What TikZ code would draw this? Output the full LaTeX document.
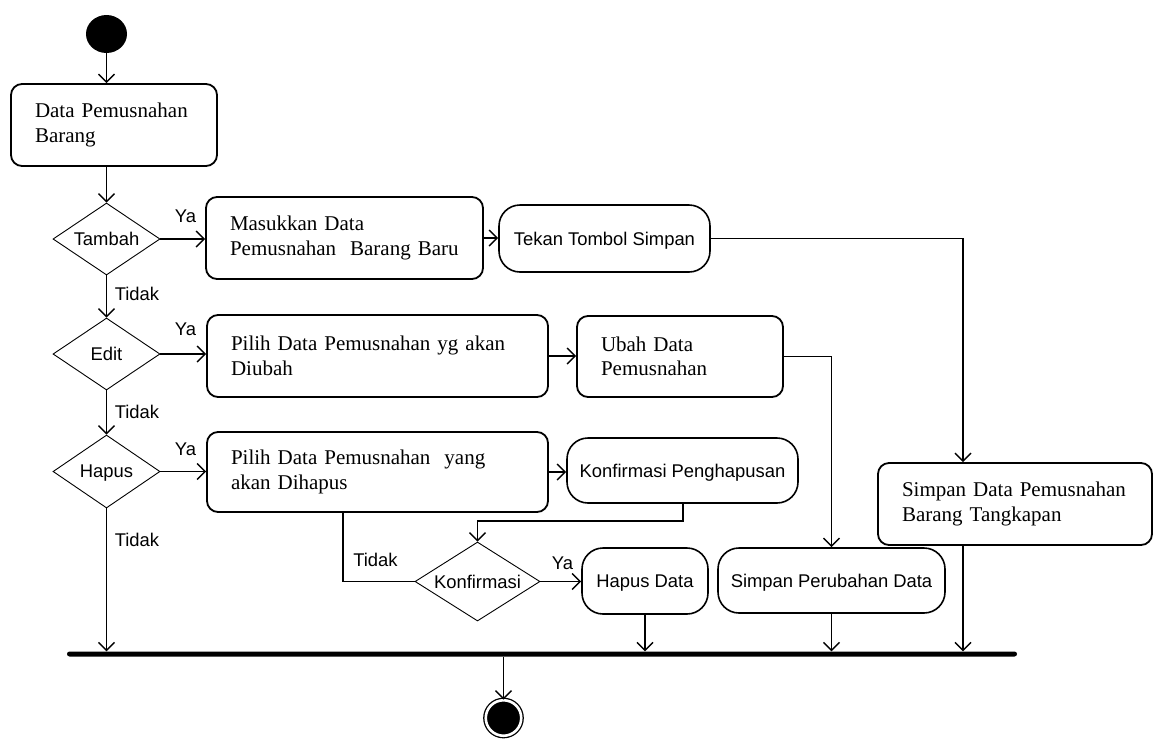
\documentclass[tikz,border=0pt]{standalone}
\usepackage{fontspec}
\setmainfont{Liberation Serif}
\setsansfont{Liberation Sans}
\usetikzlibrary{shapes.geometric,arrows.meta,calc}
\begin{document}
\begin{tikzpicture}[x=1pt,y=-1pt,
  serifbox/.style={draw, line width=1.8pt, rounded corners=11pt, rectangle, align=left, inner xsep=24pt, inner ysep=0pt, font=\fontsize{21}{24.5}\selectfont},
  sansbox/.style={draw, line width=1.6pt, rounded corners=21pt, rectangle, align=center, inner sep=0pt, text depth=0pt, font=\sffamily\fontsize{18.4}{22}\selectfont},
  dec/.style={draw, diamond, line width=0.9pt, inner sep=0pt, text depth=0pt, font=\sffamily\fontsize{18.4}{22}\selectfont},
  lbl/.style={font=\sffamily\fontsize{18.4}{22}\selectfont, inner sep=0pt},
  arr/.style={-{Straight Barb[length=8pt,width=16pt]}, line width=1.4pt},
  ln/.style={line width=1.4pt}
]
\useasboundingbox (0,0) rectangle (1154,740);

% start / end
\node[fill=black, ellipse, minimum width=41, minimum height=38, inner sep=0pt] (start) at (106.5,34) {};
\node[circle, fill=black, draw=black, double=white, double distance=2.6pt, line width=1.3pt, minimum size=35.5, inner sep=0pt] (end) at (503.5,718) {};
\node[fill=black, rectangle, minimum width=950, minimum height=5, inner sep=0pt, rounded corners=2.5pt] (bar) at (542,654) {};

% activities
\node[serifbox, text width=158pt, minimum height=82pt] (b1) at (114,125) {Data Pemusnahan\\Barang};
\node[serifbox, text width=229pt, minimum height=82pt] (b2) at (344.5,238) {Masukkan Data\\Pemusnahan~~Barang Baru};
\node[sansbox, minimum width=211, minimum height=67] (b3) at (604.5,238.5) {Tekan Tombol Simpan};
\node[serifbox, text width=226pt, minimum height=82pt] (b4) at (1015,504) {Simpan Data Pemusnahan\\Barang Tangkapan};
\node[serifbox, text width=293pt, minimum height=82pt] (b5) at (377.5,356) {Pilih Data Pemusnahan yg akan\\Diubah};
\node[serifbox, text width=158pt, minimum height=81pt] (b6) at (680,356.5) {Ubah Data\\Pemusnahan};
\node[serifbox, text width=293pt, minimum height=80pt] (b7) at (377.5,472) {Pilih Data Pemusnahan~~yang\\akan Dihapus};
\node[sansbox, minimum width=231, minimum height=65] (b8) at (682.5,470.5) {Konfirmasi Penghapusan};
\node[sansbox, minimum width=126, minimum height=66] (b9) at (645,581) {Hapus Data};
\node[sansbox, minimum width=227, minimum height=65] (b10) at (831.5,580.5) {Simpan Perubahan Data};

% decisions
\node[dec, minimum width=107, minimum height=72, aspect=1.5] (d1) at (106.5,239) {Tambah};
\node[dec, minimum width=107, minimum height=72, aspect=1.5] (d2) at (106.5,354) {Edit};
\node[dec, minimum width=107, minimum height=73, aspect=1.5] (d3) at (106.5,471.5) {Hapus};
\node[dec, minimum width=125, minimum height=79, aspect=1.58] (d4) at (477.5,581.5) {Konfirmasi};

% helper coordinates
\coordinate (k1) at (963,238.5);
\coordinate (k3) at (683,521);
\coordinate (k4) at (343,580);

% connectors
\draw[arr] (start.south) -- (start.south |- b1.north);
\draw[arr] (d1.north |- b1.south) -- (d1.north);
\draw[arr] (d1.east) -- (d1.east -| b2.west);
\draw[arr] (b2.east) -- (b2.east -| b3.west);
\draw[arr] (b3.east) -- (k1) -- (k1 |- b4.north);
\draw[arr] (k1 |- b4.south) -- (k1 |- bar.north);
\draw[arr] (d1.south) -- (d2.north);
\draw[arr] (d2.east) -- (d2.east -| b5.west);
\draw[arr] (b5.east) -- (b5.east -| b6.west);
\draw[arr] (b6.east) -| (b10.north);
\draw[arr] (b10.south) -- (b10.south |- bar.north);
\draw[arr] (d2.south) -- (d3.north);
\draw[arr] (d3.east) -- (d3.east -| b7.west);
\draw[arr] (b7.east) -- (b7.east -| b8.west);
\draw[arr] (k3 |- b8.south) -- (k3) -- (k3 -| d4.north) -- (d4.north);
\draw[ln] (d4.west) -- (d4.west -| k4) -- (k4 |- b7.south);
\draw[arr] (d4.east) -- (d4.east -| b9.west);
\draw[arr] (b9.south) -- (b9.south |- bar.north);
\draw[arr] (d3.south) -- (d3.south |- bar.north);
\draw[arr] (bar.south -| end.north) -- (end.north);

% labels
\node[lbl] (ya1) at (185.5,216) {Ya};
\node[lbl] (ya2) at (185.5,329.5) {Ya};
\node[lbl] (ya3) at (185.5,449.5) {Ya};
\node[lbl] (ya4) at (562.5,563.5) {Ya};
\node[lbl] (t1) at (137,294) {Tidak};
\node[lbl] (t2) at (137,412) {Tidak};
\node[lbl] (t3) at (137,540) {Tidak};
\node[lbl] (t4) at (375.5,560) {Tidak};
\end{tikzpicture}
\end{document}
